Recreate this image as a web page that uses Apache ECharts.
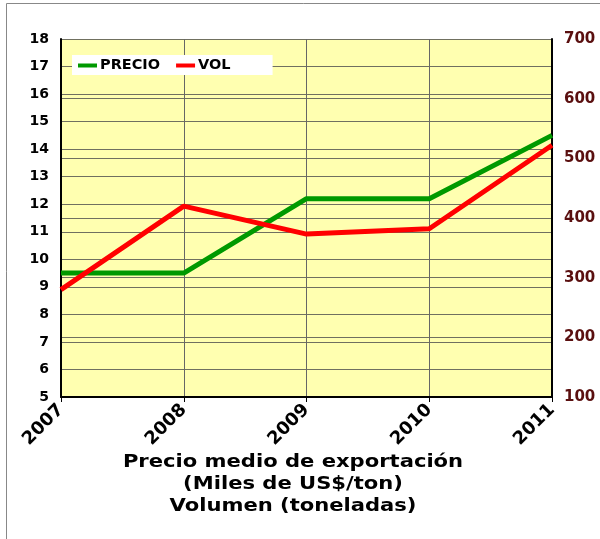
<!DOCTYPE html>
<html><head><meta charset="utf-8">
<script src="https://cdn.jsdelivr.net/npm/echarts@6/dist/echarts.min.js"></script>
<style>html,body{margin:0;padding:0;background:#fff}#c{width:600px;height:539px}</style>
</head><body><div id="c"></div>
<script>
var years = ['2007','2008','2009','2010','2011'];
var precio = [9.5, 9.5, 12.2, 12.2, 14.5];
var vol = [280, 420, 373, 382, 522];
var leftTicks = {min:5, max:18, interval:1};
var rightTicks = {min:100, max:700, interval:100};
var titleLines = ['Precio medio de exportación','(Miles de US$/ton)','Volumen (toneladas)'];

var chart = echarts.init(document.getElementById('c'), null, {renderer:'canvas'});
var font = 'DejaVu Sans';
var tfont = 'bold 17px "DejaVu Sans"';
function titleText(t, y){
  return {type:'text', x:293, y:y, scaleX:1.24, scaleY:1,
    style:{x:0, y:0, text:t, font:tfont, fill:'#000', textAlign:'center', textVerticalAlign:'middle'}};
}
chart.setOption({
  animation:false,
  backgroundColor:'#fff',
  grid:{left:61, right:48, top:39, bottom:142, show:true, backgroundColor:'#ffffb0', borderWidth:0},
  legend:{
    left:72, top:55,
    padding:[3,42,2,6],
    backgroundColor:'#fff',
    itemWidth:19, itemHeight:4, itemGap:16,
    icon:'rect',
    textStyle:{fontFamily:font, fontWeight:'bold', fontSize:14.5, color:'#000', lineHeight:14, padding:[0,0,0,-2]},
    data:['PRECIO','VOL']
  },
  xAxis:{
    type:'category', data:years, boundaryGap:false,
    axisLine:{lineStyle:{color:'#000', width:2}},
    axisTick:{show:true, length:5, lineStyle:{color:'#000'}},
    axisLabel:{rotate:45, fontFamily:font, fontWeight:'bold', fontSize:18, color:'#000', margin:10},
    splitLine:{show:true, lineStyle:{color:'#666', width:1}}
  },
  yAxis:[{
    type:'value', min:leftTicks.min, max:leftTicks.max, interval:leftTicks.interval,
    axisLine:{show:true, lineStyle:{color:'#000', width:2}},
    axisTick:{show:false},
    axisLabel:{fontFamily:font, fontWeight:'bold', fontSize:14, color:'#000', margin:12},
    splitLine:{show:true, lineStyle:{color:'#707060', width:1}}
  },{
    type:'value', min:rightTicks.min, max:rightTicks.max, interval:rightTicks.interval,
    position:'right',
    axisLine:{show:true, lineStyle:{color:'#000', width:2}},
    axisTick:{show:false},
    axisLabel:{fontFamily:font, fontWeight:'bold', fontSize:15, color:'#5a0f0f', margin:12},
    splitLine:{show:true, lineStyle:{color:'#707060', width:1}}
  }],
  series:[
    {name:'PRECIO', type:'line', yAxisIndex:0, data:precio, symbol:'none',
     lineStyle:{color:'#009900', width:5}, itemStyle:{color:'#009900'}},
    {name:'VOL', type:'line', yAxisIndex:1, data:vol, symbol:'none',
     lineStyle:{color:'#ff0000', width:5}, itemStyle:{color:'#ff0000'}}
  ],
  graphic:[
    {type:'rect', shape:{x:6.5, y:3.5, width:700, height:700}, style:{fill:'none', stroke:'#888', lineWidth:1}, silent:true},
    titleText(titleLines[0], 463),
    titleText(titleLines[1], 485),
    titleText(titleLines[2], 507)
  ]
});
</script></body></html>
